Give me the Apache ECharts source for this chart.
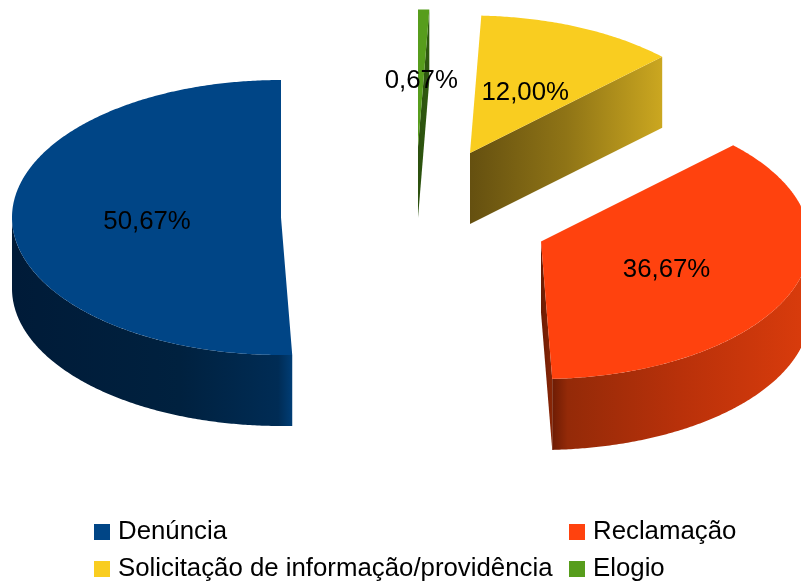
<!DOCTYPE html>
<html>
<head>
<meta charset="utf-8">
<style>
  html, body { margin: 0; padding: 0; background: #fff; }
  #main { width: 801px; height: 586px; }
</style>
</head>
<body>
<div id="main"></div>
<script src="https://cdn.jsdelivr.net/npm/echarts@6/dist/echarts.min.js"></script>
<script>
var categories = ["Denúncia", "Reclamação", "Solicitação de informação/providência", "Elogio"];
var values = [50.67, 36.67, 12.00, 0.67];

// pie look
var colors = ["#004586", "#ff420e", "#f9cd20", "#579d1c"];
var centers = [[281, 217.5], [541, 241.5], [470, 153], [418, 147]];
var legendPos = [[94, 519], [569, 519], [94, 556], [569, 556]];
var RX = 269, RY = 137.5, DEPTH = 71;
var FONT = "'Liberation Sans', Arial, sans-serif";

// gradient stops of the outer wall and of the cut wall, left to right
var wallStops = [
  [[0, "#001b38"], [0.6, "#00213f"], [0.95, "#002c55"], [1, "#003d75"]],
  [[0, "#6e1c04"], [0.06, "#942a08"], [0.5, "#b9310a"], [1, "#da3c0c"]],
  [[0, "#5f4c10"], [1, "#c9a520"]],
  [[0, "#2c500e"], [1, "#3a6a12"]]
];
var cutStops = [
  [[0, "#001b38"], [1, "#002c55"]],
  [[0, "#6b1c04"], [1, "#8a2606"]],
  [[0, "#655010"], [0.5, "#8f7416"], [1, "#cba720"]],
  [[0, "#2c500e"], [1, "#2f5a10"]]
];

var total = values.reduce(function (a, b) { return a + b; }, 0);

function grad(stops) {
  return new echarts.graphic.LinearGradient(0, 0, 1, 0, stops.map(function (s) {
    return { offset: s[0], color: s[1] };
  }));
}

// angle goes counter clockwise from the top of the ellipse, in degrees
function pt(c, a, dy) {
  var r = a * Math.PI / 180;
  return [c[0] - RX * Math.sin(r), c[1] - RY * Math.cos(r) + (dy || 0)];
}

function arc(c, a0, a1, dy) {
  var n = Math.max(2, Math.ceil(Math.abs(a1 - a0) * 2));
  var pts = [];
  for (var i = 0; i <= n; i++) {
    pts.push(pt(c, a0 + (a1 - a0) * i / n, dy));
  }
  return pts;
}

function cutWall(c, a, stops) {
  var p = pt(c, a);
  return {
    type: "polygon",
    shape: { points: [c, p, [p[0], p[1] + DEPTH], [c[0], c[1] + DEPTH]] },
    style: { fill: grad(stops) }
  };
}

function makeSeries(idx) {
  var before = 0;
  for (var i = 0; i < idx; i++) before += values[i];
  return {
    type: "custom",
    name: categories[idx],
    coordinateSystem: "none",
    silent: true,
    itemStyle: { color: colors[idx] },
    data: [values[idx]],
    renderItem: function (params, api) {
      var v = api.value(0);
      var a0 = before / total * 360, a1 = (before + v) / total * 360;
      var c = centers[idx];
      var kids = [];

      // sides that face the viewer
      if (Math.sin(a0 * Math.PI / 180) < 0) kids.push(cutWall(c, a0, cutStops[idx]));
      if (Math.sin(a1 * Math.PI / 180) > 0) kids.push(cutWall(c, a1, cutStops[idx]));
      var w0 = Math.max(a0, 90), w1 = Math.min(a1, 270);
      if (w1 > w0) {
        kids.push({
          type: "polygon",
          shape: { points: arc(c, w0, w1, 0).concat(arc(c, w1, w0, DEPTH)) },
          style: { fill: grad(wallStops[idx]) }
        });
      }

      // top face
      kids.push({
        type: "polygon",
        shape: { points: [c].concat(arc(c, a0, a1, 0)) },
        style: { fill: colors[idx] }
      });

      // value label sits half way out on the middle of the slice
      var r = (a0 + a1) / 2 * Math.PI / 180;
      kids.push({
        type: "text",
        style: {
          x: c[0] - RX * 0.5 * Math.sin(r) + 0.5,
          y: c[1] - RY * 0.5 * Math.cos(r) + 3,
          text: v.toFixed(2).replace(".", ",") + "%",
          fill: "#000",
          font: "25.8px " + FONT,
          align: "center",
          verticalAlign: "middle"
        }
      });
      return { type: "group", children: kids };
    }
  };
}

var chart = echarts.init(document.getElementById("main"), null, { renderer: "canvas" });
chart.setOption({
  animation: false,
  backgroundColor: "#fff",
  color: colors,
  legend: categories.map(function (name, i) {
    return {
      data: [name],
      left: legendPos[i][0],
      top: legendPos[i][1],
      padding: 0,
      icon: "rect",
      itemWidth: 16,
      itemHeight: 16,
      selectedMode: false,
      textStyle: { color: "#000", fontFamily: FONT, fontSize: 25.8, padding: [0, 0, 0, 3] }
    };
  }),
  series: categories.map(function (name, i) { return makeSeries(i); })
});
</script>
</body>
</html>
